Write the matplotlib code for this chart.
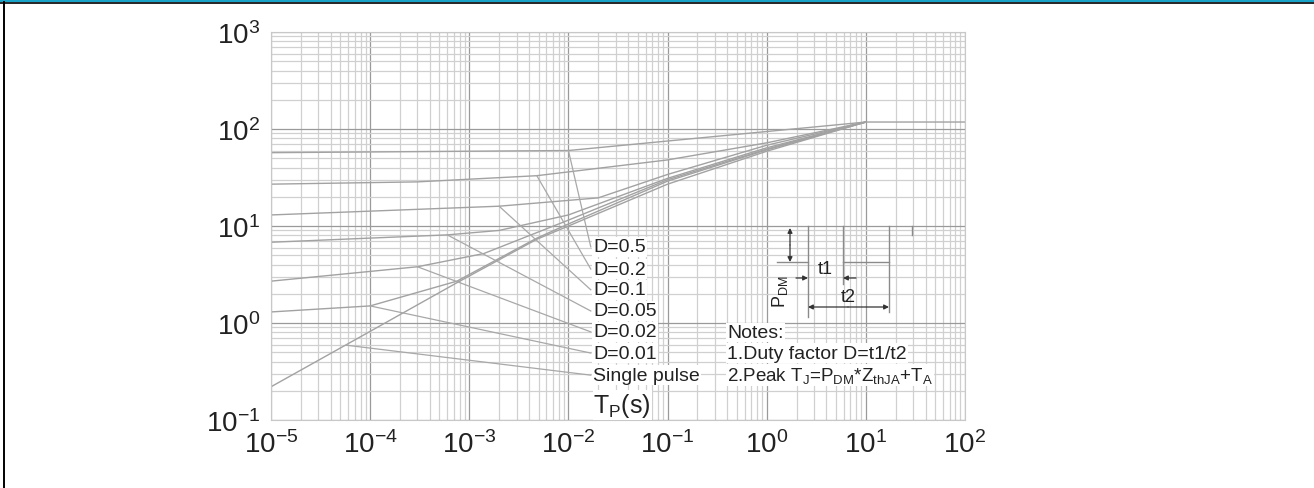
import numpy as np
import matplotlib

matplotlib.use("Agg")
import matplotlib.pyplot as plt
from matplotlib.lines import Line2D
from matplotlib.patches import Rectangle
from matplotlib.ticker import LogLocator

plt.rcParams["font.family"] = ["Liberation Sans", "DejaVu Sans"]
plt.rcParams["mathtext.default"] = "regular"
plt.rcParams["axes.unicode_minus"] = False

# transient thermal impedance curves (t in s, Z in degC/W)
labels = ["D=0.5", "D=0.2", "D=0.1", "D=0.05", "D=0.02", "D=0.01", "Single pulse"]
t_d05 = [1e-5, 1e-3, 1e-2, 10, 100]
z_d05 = [57, 59, 60, 118, 118]
t_d02 = [1e-5, 3e-4, 4.8e-3, 1e-1, 1, 10]
z_d02 = [27, 28.5, 33, 48, 72, 118]
t_d01 = [1e-5, 2e-3, 2e-2, 1e-1, 1, 10]
z_d01 = [13, 16, 19.5, 34, 68, 118]
t_d005 = [1e-5, 6e-4, 2e-3, 1e-2, 1e-1, 1, 10]
z_d005 = [6.8, 8.1, 9.0, 13, 31, 64, 118]
t_d002 = [1e-5, 3e-4, 1.4e-3, 1e-2, 1e-1, 1, 10]
z_d002 = [2.7, 3.8, 5.2, 11.5, 30, 62, 118]
t_d001 = [1e-5, 1e-4, 7.5e-4, 4.8e-3, 1e-2, 1e-1, 1, 10]
z_d001 = [1.3, 1.5, 2.7, 7.5, 10.5, 29, 61, 118]
t_sp = [1e-5, 1e-4, 7.5e-4, 4.8e-3, 1e-2, 1e-1, 1, 10]
z_sp = [0.22, 0.82, 2.6, 7.3, 10, 27, 59, 118]

curves = [(t_d05, z_d05), (t_d02, z_d02), (t_d01, z_d01), (t_d005, z_d005),
          (t_d002, z_d002), (t_d001, z_d001), (t_sp, z_sp)]

# leader lines: from a point on each curve to its label
leader_t = [1e-2, 4.8e-3, 2e-3, 6e-4, 3e-4, 1e-4, 5.8e-5]
leader_z = [60, 33, 16, 8.1, 3.8, 1.5, 0.59]
label_z = [6.1, 3.6, 2.2, 1.33, 0.81, 0.49, 0.29]
leader_end_t = 0.0168
label_t = 0.0178

notes = ["Notes:",
         "1.Duty factor D=t1/t2",
         r"2.Peak T$_\mathregular{J}$=P$_\mathregular{DM}$*Z$_\mathregular{thJA}$+T$_\mathregular{A}$"]
notes_t = 0.40
notes_z = [0.80, 0.49, 0.292]

W, H = 1314, 489
fig = plt.figure(figsize=(W / 100, H / 100), dpi=100)
ax = fig.add_axes([271 / W, 1 - 421 / H, 694 / W, 388 / H])

ax.set_xscale("log")
ax.set_yscale("log")
ax.set_xlim(1e-5, 1e2)
ax.set_ylim(1e-1, 1e3)
for axis in (ax.xaxis, ax.yaxis):
    axis.set_major_locator(LogLocator(base=10, numticks=20))
    axis.set_minor_locator(LogLocator(base=10, subs=np.arange(2, 10), numticks=200))
ax.grid(which="major", color="#9a9a9a", lw=0.9)
ax.grid(which="minor", color="#d0d0d0", lw=0.9)
ax.set_axisbelow(True)
ax.tick_params(which="both", length=0)
ax.tick_params(axis="x", pad=7, labelsize=20, colors="#222222")
ax.tick_params(axis="y", pad=8, labelsize=20, colors="#222222")
for sp in ax.spines.values():
    sp.set_color("#c8c8c8")

for t, z in curves:
    ax.plot(t, z, color="#a2a2a2", lw=1.0, zorder=2)

for i, lab in enumerate(labels):
    ax.plot([leader_t[i], leader_end_t], [leader_z[i], label_z[i]],
            color="#a8a8a8", lw=0.9, zorder=2)
    ax.text(label_t, label_z[i], lab, fontsize=14, ha="left", va="center",
            color="#222222", zorder=4,
            bbox=dict(facecolor="white", edgecolor="none", pad=1.0))

ax.text(label_t, 0.143, r"T$_\mathregular{P}$(s)", fontsize=18, ha="left",
        va="center", color="#222222", zorder=4,
        bbox=dict(facecolor="white", edgecolor="none", pad=0.5))

for txt, zv in zip(notes, notes_z):
    ax.text(notes_t, zv, txt, fontsize=14 if txt[0] != "2" else 13.5, ha="left",
            va="center", color="#222222", zorder=4,
            bbox=dict(facecolor="white", edgecolor="none", pad=1.0))

# pulse-train sketch, drawn in a small pixel-unit axes
ix0, ix1, iy0, iy1 = 773, 921, 229, 323
ins = fig.add_axes([ix0 / W, 1 - iy1 / H, (ix1 - ix0) / W, (iy1 - iy0) / H])
ins.set_xlim(ix0, ix1)
ins.set_ylim(iy1, iy0)
ins.set_facecolor("white")
ins.axis("off")
ins.patch.set_visible(True)

line_kw = dict(color="#8a8a8a", lw=1.0, clip_on=False)
ins.plot([777, 808], [263, 263], **line_kw)
ins.plot([843, 889], [263, 263], **line_kw)
ins.plot([808, 808], [227, 318], **line_kw)
ins.plot([843, 843], [227, 285], **line_kw)
ins.plot([889, 889], [227, 313], **line_kw)
ins.plot([912, 912], [227, 236], **line_kw)

arrow = dict(arrowstyle="-|>", color="#333333", lw=0.9, mutation_scale=7,
             shrinkA=0, shrinkB=0)
ins.annotate("", xy=(790, 229), xytext=(790, 246), arrowprops=arrow)
ins.annotate("", xy=(790, 263), xytext=(790, 246), arrowprops=arrow)
ins.annotate("", xy=(808, 279), xytext=(796, 279), arrowprops=arrow)
ins.annotate("", xy=(843, 279), xytext=(856, 279), arrowprops=arrow)
ins.annotate("", xy=(808, 308), xytext=(848, 308), arrowprops=arrow)
ins.annotate("", xy=(889, 308), xytext=(848, 308), arrowprops=arrow)
ins.text(825, 270, "t1", fontsize=13, ha="center", va="center", color="#222222")
ins.text(848, 298, "t2", fontsize=13, ha="center", va="center", color="#222222")
ins.text(780, 292, r"P$_\mathregular{DM}$", fontsize=13, rotation=90,
         ha="center", va="center", color="#222222")

# page frame: teal band at the top, thin black rules
fig.add_artist(Rectangle((0, 1 - 3 / H), 1, 3 / H, transform=fig.transFigure,
                         facecolor="#1aa3c9", edgecolor="none"))
fig.add_artist(Line2D([0, 1], [1 - 3.8 / H, 1 - 3.8 / H], transform=fig.transFigure,
                      color="black", lw=1.2))
fig.add_artist(Line2D([4 / W, 4 / W], [0, 1 - 3 / H], transform=fig.transFigure,
                      color="black", lw=1.4))

fig.savefig("out.png", dpi=100)
